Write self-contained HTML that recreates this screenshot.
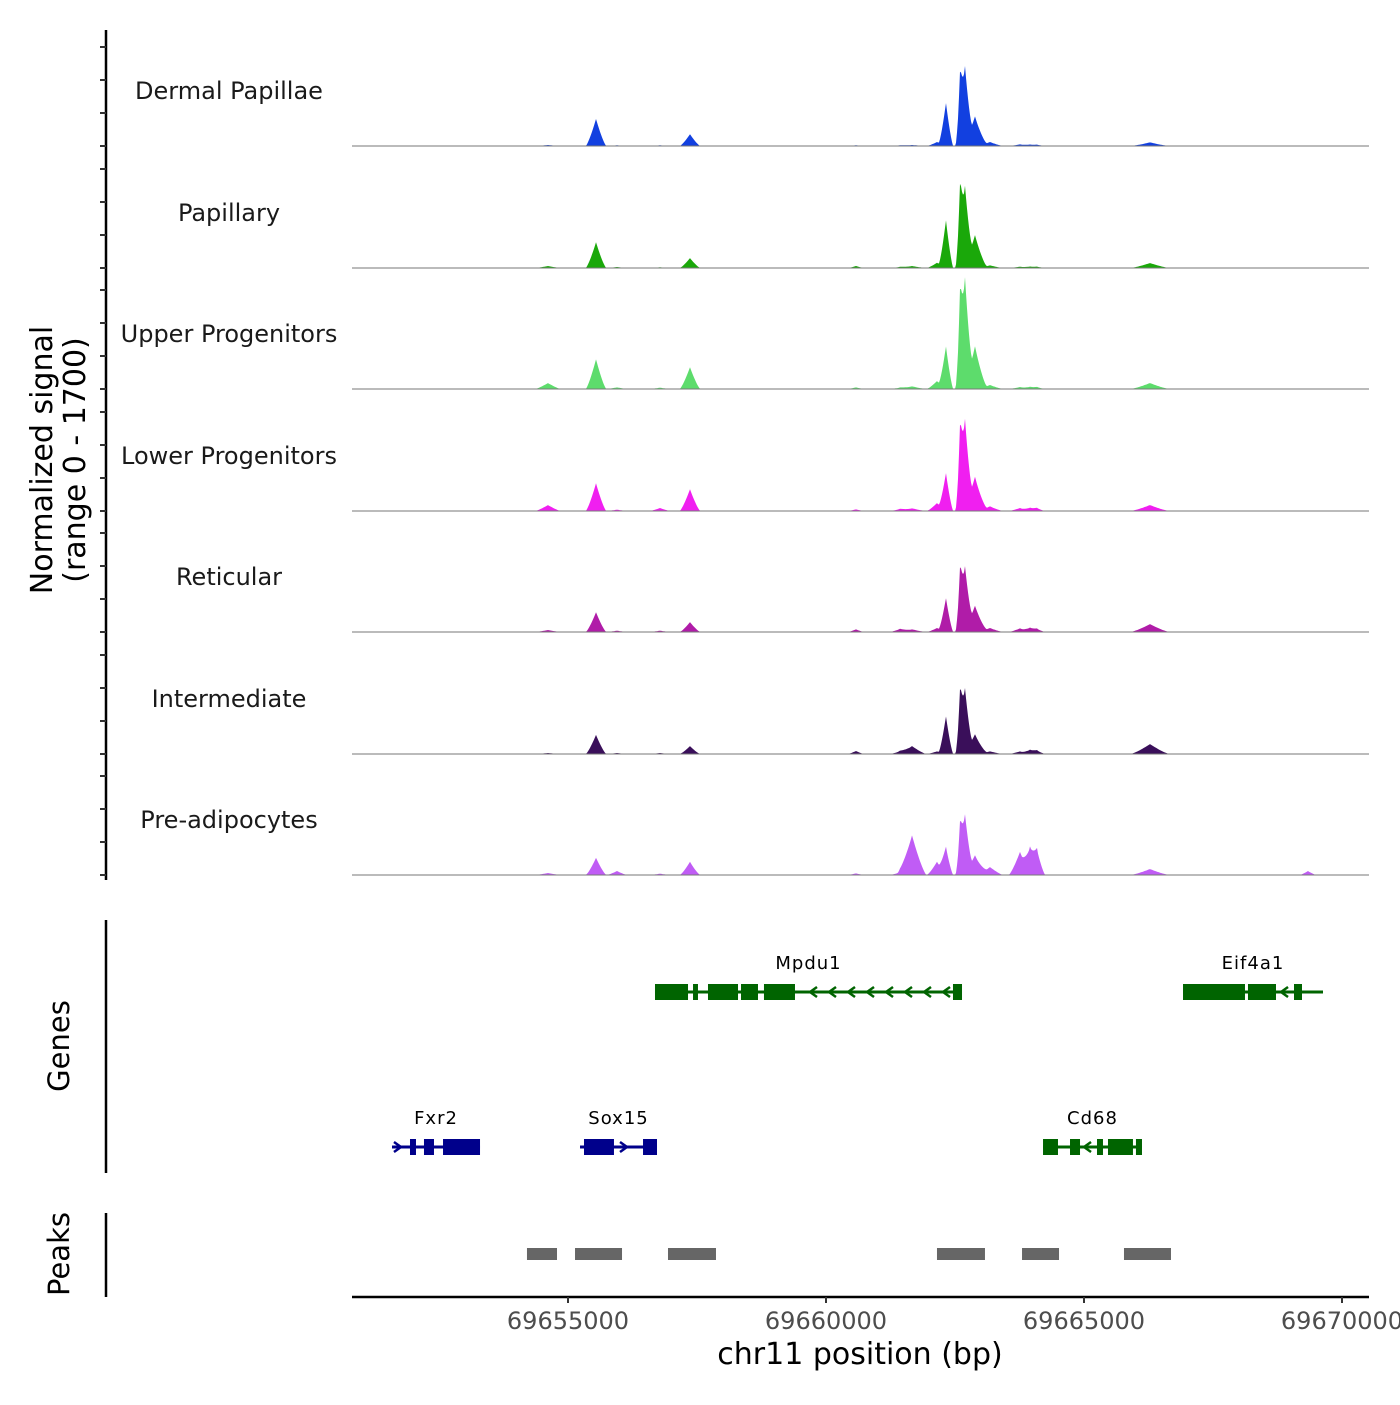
<!DOCTYPE html>
<html><head><meta charset="utf-8"><style>
body{margin:0;background:#fff}
svg{font-family:"DejaVu Sans","Liberation Sans",sans-serif}
</style></head><body>
<svg id="chart" width="1400" height="1400" viewBox="0 0 1400 1400" xmlns="http://www.w3.org/2000/svg">
<g id="g"></g>
</svg>
<script>
const trackNames=["Dermal Papillae","Papillary","Upper Progenitors","Lower Progenitors","Reticular","Intermediate","Pre-adipocytes"];
const trackColors=["#1240e0","#1aa80a","#5ddc6c","#f01ff0","#b01ca8","#3a0f5a","#c05cf5"];
// peak centers (bp)
const peakPos=[69654612,69655543,69655950,69656783,69657364,69660581,69661434,69661667,69662151,69662325,69662600,69662693,69662887,69663178,69663760,69663953,69664089,69666279,69669341];
// peak heights per track (signal units, 0-1700)
const sigDermal=[15,410,10,10,180,10,10,15,60,650,900,1180,450,60,25,20,20,55,5];
const sigPapillary=[30,390,15,10,150,30,15,30,80,720,1050,1210,500,40,20,20,20,75,5];
const sigUpper=[90,450,25,20,330,25,20,40,120,640,1200,1650,650,60,30,30,30,90,5];
const sigLower=[90,420,20,45,330,25,30,40,120,570,1050,1360,520,70,45,45,45,90,5];
const sigReticular=[30,300,20,20,150,40,45,40,60,510,800,970,400,60,55,60,50,120,5];
const sigIntermediate=[15,290,15,15,120,45,40,120,40,570,800,980,300,40,40,60,55,150,5];
const sigPreadipo=[30,260,60,20,200,25,40,600,200,420,640,900,300,120,350,380,380,90,60];
const peakWidth=[250,200,200,200,200,160,200,280,200,140,90,140,230,260,220,160,160,380,160];
const seriesList=[sigDermal,sigPapillary,sigUpper,sigLower,sigReticular,sigIntermediate,sigPreadipo];
const xTicks=[69655000,69660000,69665000,69670000];
const xTickLabels=["69655000","69660000","69665000","69670000"];
const genes=[
 {name:"Mpdu1",color:"#006400",strand:-1,start:69656686,end:69662636,row:0,exons:[[69656686,69657326],[69657423,69657519],[69657713,69658295],[69658353,69658682],[69658798,69659399],[69662461,69662636]]},
 {name:"Eif4a1",color:"#006400",strand:-1,start:69666919,end:69669632,row:0,exons:[[69666919,69668120],[69668178,69668721],[69669070,69669225]]},
 {name:"Fxr2",color:"#00008b",strand:1,start:69651589,end:69653295,row:1,exons:[[69651938,69652054],[69652209,69652403],[69652578,69653295]]},
 {name:"Sox15",color:"#00008b",strand:1,start:69655233,end:69656725,row:1,exons:[[69655310,69655891],[69656454,69656725]]},
 {name:"Cd68",color:"#006400",strand:-1,start:69664206,end:69666124,row:1,exons:[[69664206,69664496],[69664729,69664923],[69665252,69665368],[69665465,69665949],[69666007,69666124]]}
];
const peakRegions=[[69654205,69654787],[69655136,69656047],[69656938,69657868],[69662151,69663081],[69663799,69664516],[69665775,69666686]];

const NS="http://www.w3.org/2000/svg";
const g=document.getElementById("g");
const X0=352,X1=1369,BP0=69650814,BPPX=19.38;
const xs=bp=>X0+(bp-BP0)/BPPX;
const PXU=0.066;
const baselines=[146,268,389,511,632,754,875];
function mk(tag,attrs,parent){const e=document.createElementNS(NS,tag);for(const k in attrs)e.setAttribute(k,attrs[k]);(parent||g).appendChild(e);return e;}

let ax=mk("line",{x1:106,y1:30,x2:106,y2:880,stroke:"#000","stroke-width":2.5});

baselines.forEach(b=>{[0,500,1000,1500].forEach(v=>{const t=mk("line",{x1:100,x2:106,y1:b-v*PXU,y2:b-v*PXU,stroke:"#333","stroke-width":2});
});});
let yt=mk("text",{transform:"translate(52,460) rotate(-90)","text-anchor":"middle","font-size":30});

const t1=mk("tspan",{x:0,y:0},yt);t1.textContent="Normalized signal";
const t2=mk("tspan",{x:0,y:33},yt);t2.textContent="(range 0 - 1700)";

seriesList.forEach((ser,ti)=>{
  const b=baselines[ti];
  let d="M"+X0+","+b;
  for(let x=X0;x<=X1;x+=1){
    const bp=BP0+(x-X0)*BPPX;let v=0;
    for(let i=0;i<peakPos.length;i++){const r=Math.abs(bp-peakPos[i])/peakWidth[i];if(r<1)v+=ser[i]*Math.pow(1-r,1.3);}
    d+=" L"+x+","+(b-Math.min(v,1700)*PXU).toFixed(1);
  }
  d+=" L"+X1+","+b+" Z";
  const p=mk("path",{d:d,fill:trackColors[ti]});
  
  const l=mk("line",{x1:X0,x2:X1,y1:b,y2:b,stroke:"#777","stroke-width":1});
  
  const tx=mk("text",{x:229,y:b-47,"text-anchor":"middle","font-size":24,fill:"#1a1a1a"});
  tx.textContent=trackNames[ti];
  
});

let ga=mk("line",{x1:106,y1:920,x2:106,y2:1173,stroke:"#000","stroke-width":2.5});

let gt=mk("text",{transform:"translate(69,1046) rotate(-90)","text-anchor":"middle","font-size":29});gt.textContent="Genes";

const rowY=[992,1147];
genes.forEach(gn=>{
  const y=rowY[gn.row],x1=xs(gn.start),x2=xs(gn.end);
  const grp=mk("g",{});
  
  mk("line",{x1:x1,x2:x2,y1:y,y2:y,stroke:gn.color,"stroke-width":3},grp);
  gn.exons.forEach(e=>mk("rect",{x:xs(e[0]),y:y-8,width:Math.max(3,xs(e[1])-xs(e[0])),height:16,fill:gn.color},grp));
  for(let x=x1+6;x<x2-4;x+=19){
    const bp=BP0+(x-X0)*BPPX;
    if(gn.exons.some(e=>bp>=e[0]-60&&bp<=e[1]+60))continue;
    const s=gn.strand;
    mk("path",{d:"M"+(x-4*s)+","+(y-5)+" L"+(x+3*s)+","+y+" L"+(x-4*s)+","+(y+5),fill:"none",stroke:gn.color,"stroke-width":2.5},grp);
  }
  const lb=mk("text",{x:(x1+x2)/2,y:y-23,"text-anchor":"middle","font-size":18,fill:"#000","letter-spacing":1},grp);lb.textContent=gn.name;
});

let pa=mk("line",{x1:106,y1:1213,x2:106,y2:1297,stroke:"#000","stroke-width":2.5});

let pt=mk("text",{transform:"translate(69,1254) rotate(-90)","text-anchor":"middle","font-size":29});pt.textContent="Peaks";

peakRegions.forEach(r=>{const e=mk("rect",{x:xs(r[0]),y:1248,width:xs(r[1])-xs(r[0]),height:12,fill:"#666"});
});

let xa=mk("line",{x1:X0,x2:X1,y1:1297,y2:1297,stroke:"#000","stroke-width":2.5});

xTicks.forEach((v,i)=>{
  const t=mk("line",{x1:xs(v),x2:xs(v),y1:1297,y2:1303,stroke:"#333","stroke-width":2});
  
  const l=mk("text",{x:xs(v),y:1329,"text-anchor":"middle","font-size":24,fill:"#4d4d4d"});l.textContent=xTickLabels[i];
  
});
let xt=mk("text",{x:860,y:1364,"text-anchor":"middle","font-size":30});xt.textContent="chr11 position (bp)";

</script>
</body></html>
